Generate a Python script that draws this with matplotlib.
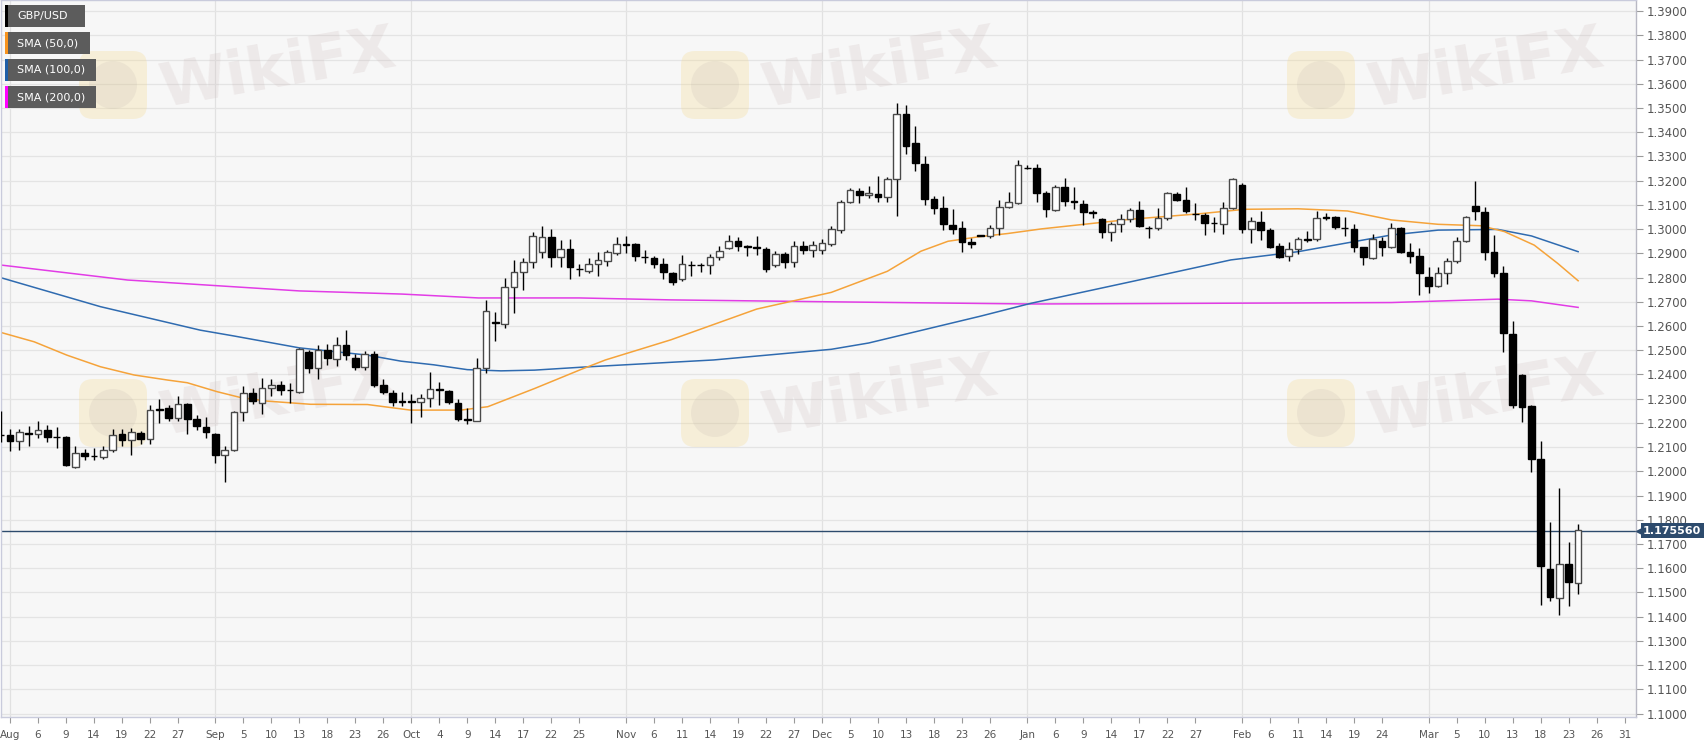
import numpy as np
import pandas as pd
import matplotlib
matplotlib.use('Agg')
import matplotlib.pyplot as plt
import matplotlib.transforms as mtransforms
from matplotlib.patches import Rectangle, FancyBboxPatch, Circle

# GBP/USD daily candles, 31 Jul 2019 - 24 Mar 2020
opens = [1.2150, 1.2152, 1.2125, 1.2160, 1.2156, 1.2169, 1.2143, 1.2143, 1.2019, 1.2077,
         1.2063, 1.2059, 1.2088, 1.2156, 1.2128, 1.2159, 1.2132, 1.2255, 1.2261, 1.2221,
         1.2279, 1.2217, 1.2184, 1.2156, 1.2066, 1.2088, 1.2246, 1.2322, 1.2283, 1.2345,
         1.2356, 1.2336, 1.2329, 1.2494, 1.2425, 1.2500, 1.2466, 1.2520, 1.2470, 1.2432,
         1.2483, 1.2356, 1.2324, 1.2288, 1.2290, 1.2287, 1.2301, 1.2338, 1.2331, 1.2284,
         1.2214, 1.2209, 1.2428, 1.2614, 1.2608, 1.2760, 1.2822, 1.2863, 1.2907, 1.2967,
         1.2883, 1.2918, 1.2837, 1.2828, 1.2857, 1.2867, 1.2901, 1.2936, 1.2940, 1.2887,
         1.2880, 1.2857, 1.2821, 1.2794, 1.2852, 1.2850, 1.2854, 1.2883, 1.2922, 1.2952,
         1.2930, 1.2925, 1.2920, 1.2850, 1.2897, 1.2863, 1.2930, 1.2915, 1.2915, 1.2940,
         1.2998, 1.3111, 1.3159, 1.3141, 1.3147, 1.3132, 1.3205, 1.3477, 1.3356, 1.3271,
         1.3125, 1.3088, 1.3019, 1.3006, 1.2946, 1.2975, 1.2973, 1.3004, 1.3092, 1.3108,
         1.3253, 1.3252, 1.3148, 1.3077, 1.3173, 1.3115, 1.3104, 1.3070, 1.3042, 1.2987,
         1.3020, 1.3041, 1.3077, 1.3006, 1.3004, 1.3045, 1.3146, 1.3121, 1.3063, 1.3059,
         1.3025, 1.3020, 1.3087, 1.3183, 1.3000, 1.3031, 1.2997, 1.2931, 1.2890, 1.2917,
         1.2956, 1.2958, 1.3049, 1.3052, 1.3006, 1.3000, 1.2925, 1.2880, 1.2952, 1.2925,
         1.3003, 1.2906, 1.2889, 1.2804, 1.2766, 1.2820, 1.2870, 1.2951, 1.3097, 1.3072,
         1.2904, 1.2817, 1.2569, 1.2397, 1.2269, 1.2050, 1.1598, 1.1479, 1.1616, 1.1539]
highs = [1.2249, 1.2173, 1.2173, 1.2187, 1.2207, 1.2190, 1.2184, 1.2145, 1.2104, 1.2093,
         1.2097, 1.2104, 1.2176, 1.2176, 1.2180, 1.2166, 1.2272, 1.2297, 1.2272, 1.2311,
         1.2283, 1.2231, 1.2225, 1.2159, 1.2104, 1.2249, 1.2352, 1.2345, 1.2384, 1.2380,
         1.2373, 1.2363, 1.2510, 1.2500, 1.2520, 1.2526, 1.2556, 1.2583, 1.2483, 1.2497,
         1.2497, 1.2380, 1.2335, 1.2326, 1.2320, 1.2321, 1.2411, 1.2370, 1.2338, 1.2297,
         1.2262, 1.2470, 1.2708, 1.2660, 1.2800, 1.2872, 1.2880, 1.2990, 1.3013, 1.3000,
         1.2955, 1.2960, 1.2856, 1.2879, 1.2905, 1.2915, 1.2968, 1.2970, 1.2944, 1.2912,
         1.2890, 1.2880, 1.2823, 1.2893, 1.2870, 1.2862, 1.2897, 1.2930, 1.2976, 1.2969,
         1.2933, 1.2970, 1.2925, 1.2909, 1.2906, 1.2950, 1.2950, 1.2950, 1.2958, 1.3012,
         1.3122, 1.3170, 1.3170, 1.3180, 1.3218, 1.3216, 1.3519, 1.3513, 1.3425, 1.3301,
         1.3136, 1.3136, 1.3083, 1.3033, 1.2964, 1.2977, 1.3017, 1.3119, 1.3152, 1.3287,
         1.3264, 1.3268, 1.3158, 1.3183, 1.3213, 1.3172, 1.3121, 1.3080, 1.3048, 1.3031,
         1.3062, 1.3087, 1.3118, 1.3011, 1.3087, 1.3155, 1.3153, 1.3176, 1.3107, 1.3066,
         1.3052, 1.3114, 1.3210, 1.3190, 1.3052, 1.3073, 1.3004, 1.2942, 1.2945, 1.2969,
         1.2994, 1.3073, 1.3066, 1.3055, 1.3049, 1.3022, 1.2928, 1.2980, 1.2967, 1.3024,
         1.3010, 1.2944, 1.2921, 1.2845, 1.2842, 1.2879, 1.2969, 1.3054, 1.3200, 1.3090,
         1.2976, 1.2848, 1.2622, 1.2401, 1.2273, 1.2125, 1.1789, 1.1933, 1.1709, 1.1784]
lows = [1.2120, 1.2083, 1.2090, 1.2104, 1.2139, 1.2121, 1.2097, 1.2021, 1.2015, 1.2046,
        1.2046, 1.2052, 1.2079, 1.2104, 1.2066, 1.2115, 1.2111, 1.2198, 1.2207, 1.2207,
        1.2156, 1.2170, 1.2139, 1.2035, 1.1957, 1.2083, 1.2207, 1.2280, 1.2235, 1.2311,
        1.2315, 1.2283, 1.2325, 1.2405, 1.2380, 1.2440, 1.2434, 1.2459, 1.2418, 1.2420,
        1.2348, 1.2320, 1.2270, 1.2270, 1.2200, 1.2225, 1.2267, 1.2273, 1.2280, 1.2208,
        1.2197, 1.2206, 1.2405, 1.2540, 1.2590, 1.2655, 1.2749, 1.2840, 1.2880, 1.2845,
        1.2845, 1.2793, 1.2807, 1.2817, 1.2808, 1.2849, 1.2895, 1.2900, 1.2870, 1.2862,
        1.2840, 1.2793, 1.2770, 1.2786, 1.2808, 1.2825, 1.2815, 1.2872, 1.2918, 1.2910,
        1.2890, 1.2894, 1.2822, 1.2843, 1.2841, 1.2842, 1.2898, 1.2887, 1.2899, 1.2929,
        1.2984, 1.3108, 1.3106, 1.3129, 1.3111, 1.3111, 1.3053, 1.3312, 1.3242, 1.3101,
        1.3064, 1.2995, 1.2982, 1.2906, 1.2922, 1.2971, 1.2964, 1.2975, 1.3088, 1.3105,
        1.3249, 1.3114, 1.3052, 1.3073, 1.3096, 1.3082, 1.3018, 1.3048, 1.2963, 1.2953,
        1.2990, 1.3030, 1.3008, 1.2963, 1.2997, 1.3036, 1.3117, 1.3066, 1.3038, 1.2976,
        1.2990, 1.2980, 1.3082, 1.2983, 1.2942, 1.2956, 1.2921, 1.2880, 1.2870, 1.2898,
        1.2949, 1.2952, 1.3036, 1.3000, 1.2970, 1.2907, 1.2852, 1.2877, 1.2890, 1.2921,
        1.2900, 1.2859, 1.2728, 1.2737, 1.2760, 1.2773, 1.2861, 1.2948, 1.3038, 1.2872,
        1.2804, 1.2494, 1.2260, 1.2204, 1.1998, 1.1447, 1.1465, 1.1406, 1.1443, 1.1495]
closes = [1.2152, 1.2125, 1.2162, 1.2155, 1.2170, 1.2141, 1.2141, 1.2028, 1.2077, 1.2063,
          1.2065, 1.2090, 1.2150, 1.2129, 1.2162, 1.2132, 1.2253, 1.2258, 1.2221, 1.2280,
          1.2218, 1.2187, 1.2162, 1.2066, 1.2090, 1.2246, 1.2325, 1.2290, 1.2345, 1.2356,
          1.2336, 1.2338, 1.2506, 1.2425, 1.2501, 1.2470, 1.2521, 1.2480, 1.2432, 1.2483,
          1.2356, 1.2328, 1.2287, 1.2290, 1.2288, 1.2301, 1.2339, 1.2340, 1.2287, 1.2218,
          1.2216, 1.2428, 1.2663, 1.2616, 1.2760, 1.2822, 1.2863, 1.2970, 1.2967, 1.2886,
          1.2918, 1.2842, 1.2834, 1.2856, 1.2871, 1.2904, 1.2940, 1.2938, 1.2891, 1.2885,
          1.2857, 1.2823, 1.2780, 1.2856, 1.2853, 1.2853, 1.2883, 1.2909, 1.2952, 1.2929,
          1.2928, 1.2922, 1.2835, 1.2898, 1.2863, 1.2930, 1.2912, 1.2934, 1.2943, 1.3001,
          1.3112, 1.3161, 1.3143, 1.3150, 1.3133, 1.3205, 1.3477, 1.3345, 1.3274, 1.3126,
          1.3089, 1.3021, 1.3002, 1.2947, 1.2939, 1.2973, 1.3004, 1.3092, 1.3114, 1.3264,
          1.3251, 1.3151, 1.3084, 1.3173, 1.3117, 1.3112, 1.3071, 1.3068, 1.2987, 1.3022,
          1.3041, 1.3080, 1.3013, 1.3004, 1.3048, 1.3148, 1.3121, 1.3075, 1.3061, 1.3025,
          1.3027, 1.3087, 1.3206, 1.3000, 1.3034, 1.2997, 1.2928, 1.2887, 1.2917, 1.2958,
          1.2958, 1.3048, 1.3047, 1.3008, 1.3004, 1.2928, 1.2884, 1.2958, 1.2928, 1.3003,
          1.2907, 1.2889, 1.2817, 1.2766, 1.2820, 1.2870, 1.2951, 1.3049, 1.3075, 1.2907,
          1.2817, 1.2572, 1.2273, 1.2266, 1.2053, 1.1608, 1.1481, 1.1619, 1.1542, 1.1756]

# moving averages, sampled along the curves (bar index, price)
sma50_x = [0, 3.6, 7.1, 10.7, 14.3, 17.9, 20, 23.2, 25.7, 28.6, 33.2, 39.3, 43.9, 49.3,
           52.2, 57.2, 62.2, 64.8, 71.8, 81, 89, 95, 98.6, 101.5, 104.7, 107.9, 111.5,
           121.1, 128.3, 133.3, 139, 144.3, 149, 154, 158.6, 161.1, 164.3, 166.8, 169]
sma50_y = [1.2574, 1.2535, 1.2480, 1.2432, 1.2398, 1.2377, 1.2366, 1.2329, 1.2305, 1.2290,
           1.2277, 1.2276, 1.2253, 1.2253, 1.2267, 1.2342, 1.2421, 1.2460, 1.2543, 1.2670,
           1.2739, 1.2826, 1.2909, 1.2950, 1.2968, 1.2982, 1.3001, 1.3041, 1.3063, 1.3082,
           1.3084, 1.3075, 1.3038, 1.3020, 1.3014, 1.2990, 1.2934, 1.2859, 1.2787]
sma100_x = [0, 10.7, 21.4, 25, 32, 39.3, 42.9, 46.4, 50, 53.6, 57.2, 62.2, 76.4, 89, 93,
            105, 110.4, 121.1, 131.8, 139, 149, 154, 160.4, 164, 169]
sma100_y = [1.2800, 1.2680, 1.2583, 1.2559, 1.2510, 1.2480, 1.2455, 1.2440, 1.2420, 1.2415,
            1.2418, 1.2430, 1.2460, 1.2504, 1.2530, 1.2641, 1.2694, 1.2783, 1.2873, 1.2907,
            1.2976, 1.2996, 1.2999, 1.2972, 1.2907]
sma200_x = [0, 13.6, 32, 43, 51.2, 62, 71.8, 89, 110.4, 130, 149, 160.4, 164, 169]
sma200_y = [1.2852, 1.2790, 1.2745, 1.2732, 1.2716, 1.2716, 1.2708, 1.2700, 1.2691, 1.2694,
            1.2697, 1.2711, 1.2704, 1.2677]

last_price = 1.175560

axis_dates = pd.bdate_range('2019-07-31', '2020-03-31')
tick_dates = ['2019-08-01', '2019-08-06', '2019-08-09', '2019-08-14', '2019-08-19', '2019-08-22',
              '2019-08-27', '2019-09-02', '2019-09-05', '2019-09-10', '2019-09-13', '2019-09-18',
              '2019-09-23', '2019-09-26', '2019-10-01', '2019-10-04', '2019-10-09', '2019-10-14',
              '2019-10-17', '2019-10-22', '2019-10-25', '2019-11-01', '2019-11-06', '2019-11-11',
              '2019-11-14', '2019-11-19', '2019-11-22', '2019-11-27', '2019-12-02', '2019-12-05',
              '2019-12-10', '2019-12-13', '2019-12-18', '2019-12-23', '2019-12-26', '2020-01-01',
              '2020-01-06', '2020-01-09', '2020-01-14', '2020-01-17', '2020-01-22', '2020-01-27',
              '2020-02-03', '2020-02-06', '2020-02-11', '2020-02-14', '2020-02-19', '2020-02-24',
              '2020-03-02', '2020-03-05', '2020-03-10', '2020-03-13', '2020-03-18', '2020-03-23',
              '2020-03-26', '2020-03-31']
tick_labels = ['Aug', '6', '9', '14', '19', '22', '27', 'Sep', '5', '10', '13', '18', '23', '26',
               'Oct', '4', '9', '14', '17', '22', '25', 'Nov', '6', '11', '14', '19', '22', '27',
               'Dec', '5', '10', '13', '18', '23', '26', 'Jan', '6', '9', '14', '17', '22', '27',
               'Feb', '6', '11', '14', '19', '24', 'Mar', '5', '10', '13', '18', '23', '26', '31']
legend_names = ['GBP/USD', 'SMA (50,0)', 'SMA (100,0)', 'SMA (200,0)']
legend_colors = ['#000000', '#f7931e', '#1f5fa8', '#ff00ff']

W, H = 1707, 744
fig = plt.figure(figsize=(W / 100, H / 100), dpi=100, facecolor='white')
ax = fig.add_axes([1 / W, 27 / H, 1635 / W, 717 / H])
ax.set_facecolor('#f7f7f7')
ax.set_axisbelow(True)

o = np.array(opens)
h = np.array(highs)
l = np.array(lows)
c = np.array(closes)
x = np.arange(len(c))

# grid
tick_pos = [axis_dates.get_loc(pd.Timestamp(d)) for d in tick_dates]
month_pos = [p for p, lab in zip(tick_pos, tick_labels) if not lab.isdigit()]
for p in month_pos:
    ax.axvline(p, color='#e1e1e1', lw=0.9, zorder=0.5)
yt = np.round(np.arange(1.10, 1.3901, 0.01), 2)
for v in yt:
    ax.axhline(v, color='#e4e4e4', lw=0.9, zorder=0.5)

# watermark (faint)
ident = mtransforms.IdentityTransform()
for cx in [278, 880, 1486]:
    for cy in [70, 398]:
        ax.text(cx / W, 1 - cy / H, 'WikiFX', transform=fig.transFigure, fontsize=44,
                fontweight='bold', color='#c8b4b4', alpha=0.2, rotation=10,
                ha='center', va='center', zorder=0.6, clip_on=False)
        lx, ly = cx - 165, H - (cy + 15)
        ax.add_patch(FancyBboxPatch((lx - 34, ly - 34), 68, 68, boxstyle='round,pad=0,rounding_size=14',
                                    transform=ident, fc='#f5d98a', ec='none', alpha=0.28,
                                    zorder=0.6, clip_on=False))
        ax.add_patch(Circle((lx, ly), 24, transform=ident, fc='#b4aaa6', ec='none', alpha=0.15,
                            zorder=0.6, clip_on=False))

# moving averages
ax.plot(sma200_x, sma200_y, color='#e23ce6', lw=1.1, zorder=2)
ax.plot(sma100_x, sma100_y, color='#2f6bb0', lw=1.1, zorder=2)
ax.plot(sma50_x, sma50_y, color='#f5a33a', lw=1.1, zorder=2)

# candles
up = c >= o
doji = np.abs(c - o) < 0.0004
ax.vlines(x, l, h, color='black', lw=1, zorder=3)
lo = np.minimum(o, c)
hgt = np.maximum(np.abs(c - o), 0.00008)
ax.bar(x[up], hgt[up], bottom=lo[up], width=0.72, color='white',
       edgecolor=np.where(doji[up], 'black', '#4a4a4a'), lw=1, zorder=4)
ax.bar(x[~up], hgt[~up], bottom=lo[~up], width=0.72, color='black',
       edgecolor='black', lw=1, zorder=4)

# last price line and label
ax.axhline(last_price, color='#2d4b6d', lw=1, zorder=2.5)
blend = mtransforms.blended_transform_factory(ax.transAxes, ax.transData)
ax.plot([1.0 + 3 / 1635], [last_price], marker='<', ms=5, color='#2d4b6d',
        transform=blend, clip_on=False, zorder=10)
ax.text(1.0 + 7 / 1635, last_price, f'{last_price:.6f}', transform=blend, ha='left', va='center',
        fontsize=8, fontweight='bold', color='white', zorder=10,
        bbox=dict(boxstyle='square,pad=0.22', fc='#2d4b6d', ec='none'))

ax.set_xlim(0.05, 175.2)
ax.set_ylim(1.0986, 1.3946)
ax.set_xticks(tick_pos)
ax.set_xticklabels(tick_labels)
ax.set_yticks(yt)
ax.set_yticklabels([f'{v:.4f}' for v in yt])
ax.yaxis.tick_right()
ax.tick_params(axis='x', length=4, width=0.8, color='#9a9a9a', labelcolor='#555555',
               labelsize=7.5, pad=5)
ax.tick_params(axis='y', length=5, width=0.8, color='#9a9a9a', labelcolor='#555555',
               labelsize=8.5, pad=3)
for s in ax.spines.values():
    s.set_color('#c9cbdc')
    s.set_linewidth(1)
ax.spines['right'].set_color('#b9b9c4')

# legend boxes top left
box_w = [80, 85, 91, 91]
for i, (name, col) in enumerate(zip(legend_names, legend_colors)):
    top = 5 + i * 27
    fig.patches.append(Rectangle((5 / W, 1 - (top + 22) / H), box_w[i] / W, 22 / H,
                                 transform=fig.transFigure, fc='#5c5c5c', ec='none', zorder=5))
    fig.patches.append(Rectangle((5 / W, 1 - (top + 22) / H), 3 / W, 22 / H,
                                 transform=fig.transFigure, fc=col, ec='none', zorder=6))
    fig.text(17 / W, 1 - (top + 11) / H, name, color='white', fontsize=8,
             ha='left', va='center', zorder=7)

fig.savefig('out.png', dpi=100, facecolor='white')
